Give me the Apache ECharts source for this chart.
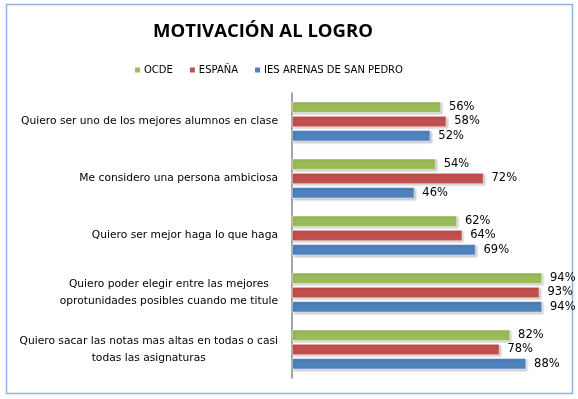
<!DOCTYPE html>
<html>
<head>
<meta charset="utf-8">
<script src="https://cdn.jsdelivr.net/npm/echarts@6/dist/echarts.min.js"></script>
<style>
  html, body { margin: 0; padding: 0; background: #fff; }
  #chart { width: 578px; height: 399px; }
</style>
</head>
<body>
<div id="chart"></div>
<script>
// datos
var categorias = [
    'Quiero ser uno de los mejores alumnos en clase',
    'Me considero una persona ambiciosa',
    'Quiero ser mejor haga lo que haga',
    'Quiero poder elegir entre las mejores\noprotunidades posibles cuando me titule',
    'Quiero sacar las notas mas altas en todas o casi\ntodas las asignaturas'
];
var series_nombres = ['OCDE', 'ESPAÑA', 'IES ARENAS DE SAN PEDRO'];
var ocde = [56, 54, 62, 94, 82];
var espana = [58, 72, 64, 93, 78];
var ies = [52, 46, 69, 94, 88];
var colores = ['#9BBB59', '#C0504D', '#4F81BD'];

var myChart = echarts.init(document.getElementById('chart'));

function serie(nombre, datos, color) {
    return {
        name: nombre,
        type: 'bar',
        data: datos,
        barWidth: 11,
        barGap: '30%',
        itemStyle: {
            color: color,
            borderColor: '#fff',
            borderWidth: 0.5,
            shadowColor: 'rgba(0,0,0,0.22)',
            shadowBlur: 2,
            shadowOffsetX: 1.5,
            shadowOffsetY: 1.5
        },
        label: {
            show: true,
            position: 'right',
            distance: 8,
            formatter: '{c}%',
            color: '#000',
            fontFamily: 'DejaVu Sans',
            fontSize: 11.5
        },
        emphasis: { disabled: true }
    };
}

var option = {
    animation: false,
    textStyle: { fontFamily: 'DejaVu Sans' },
    title: {
        text: 'MOTIVACIÓN AL LOGRO',
        left: 258,
        textAlign: 'center',
        top: 17,
        textStyle: { fontFamily: 'Open Sans', fontWeight: 'bold', fontSize: 18.5, color: '#000' }
    },
    legend: {
        top: 60,
        left: 128,
        itemWidth: 7,
        itemHeight: 7,
        itemGap: 15,
        icon: 'rect',
        data: series_nombres,
        textStyle: { fontSize: 10, color: '#000', padding: [0, 0, 0, -2] }
    },
    graphic: [{
        type: 'rect',
        shape: { x: 6.5, y: 4.5, width: 566, height: 389 },
        style: { fill: null, stroke: '#8DB3E2', lineWidth: 1.5 },
        silent: true
    }],
    grid: { left: 292, right: 20, top: 93, bottom: 21 },
    xAxis: {
        type: 'value',
        min: 0,
        max: 100,
        show: false,
        splitLine: { show: false }
    },
    yAxis: {
        type: 'category',
        inverse: true,
        data: categorias,
        axisLine: { lineStyle: { color: '#868686', width: 1.5 } },
        axisTick: { show: false },
        axisLabel: {
            margin: 14,
            align: 'right',
            color: '#000',
            fontSize: 10.7,
            lineHeight: 17,
            formatter: function (v) {
                return v.split('\n').map(function (l) { return '{c|' + l + '}'; }).join('\n');
            },
            rich: { c: { align: 'center', fontSize: 10.7, lineHeight: 17, color: '#000' } }
        }
    },
    series: [
        serie(series_nombres[0], ocde, colores[0]),
        serie(series_nombres[1], espana, colores[1]),
        serie(series_nombres[2], ies, colores[2])
    ]
};

myChart.setOption(option);
</script>
</body>
</html>
